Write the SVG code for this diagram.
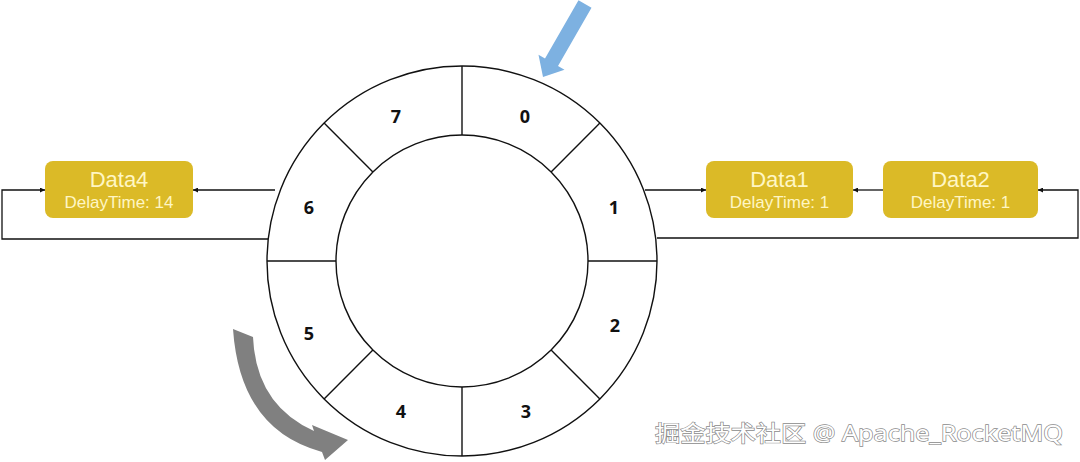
<svg xmlns="http://www.w3.org/2000/svg" width="1080" height="462" viewBox="0 0 1080 462">
<defs>
<marker id="ah" viewBox="0 0 10 10" refX="10" refY="5" markerWidth="5" markerHeight="5" orient="auto" markerUnits="userSpaceOnUse">
<path d="M0,0 L10,5 L0,10 Z" fill="#111"/>
</marker>
<style>
.ring{fill:none;stroke:#111;stroke-width:1.4}
.div{stroke:#111;stroke-width:1.4}
.num{font-family:"Open Sans","DejaVu Sans",sans-serif;font-weight:bold;font-size:18px;fill:#111;text-anchor:middle}
.box{fill:#DBBA27}
.t1{font-family:"Liberation Sans",Arial,sans-serif;font-size:22px;fill:#FFF6C4;text-anchor:middle}
.t2{font-family:"Liberation Sans",Arial,sans-serif;font-size:17px;fill:#FFF6C4;text-anchor:middle}
.conn{fill:none;stroke:#111;stroke-width:1.3}
.wm{font-family:"Noto Sans","Noto Sans CJK SC",sans-serif;font-size:22px;fill:#ffffff;stroke:#8a8a8a;stroke-width:1.3;paint-order:stroke}
</style>
</defs>
<rect width="1080" height="462" fill="#ffffff"/>

<g id="wheel">
<circle class="ring" cx="462" cy="261" r="195"/>
<circle class="ring" cx="462" cy="261" r="126"/>
<line class="div" x1="462" y1="66" x2="462" y2="135"/>
<line class="div" x1="462" y1="387" x2="462" y2="456"/>
<line class="div" x1="267" y1="261" x2="336" y2="261"/>
<line class="div" x1="588" y1="261" x2="657" y2="261"/>
<line class="div" x1="551.1" y1="171.9" x2="599.9" y2="123.1"/>
<line class="div" x1="372.9" y1="171.9" x2="324.1" y2="123.1"/>
<line class="div" x1="551.1" y1="350.1" x2="599.9" y2="398.9"/>
<line class="div" x1="372.9" y1="350.1" x2="324.1" y2="398.9"/>
<text class="num" x="525" y="123">0</text>
<text class="num" x="614" y="214">1</text>
<text class="num" x="615" y="332">2</text>
<text class="num" x="526" y="418">3</text>
<text class="num" x="401" y="418">4</text>
<text class="num" x="309" y="340">5</text>
<text class="num" x="309" y="214">6</text>
<text class="num" x="396" y="123">7</text>
</g>

<g id="data4">
<rect class="box" x="45" y="161" width="148" height="57" rx="8"/>
<text class="t1" x="119" y="187">Data4</text>
<text class="t2" x="119" y="208">DelayTime: 14</text>
</g>

<g id="data1">
<rect class="box" x="706" y="161" width="147" height="57" rx="8"/>
<text class="t1" x="779.5" y="187">Data1</text>
<text class="t2" x="779.5" y="208">DelayTime: 1</text>
</g>

<g id="data2">
<rect class="box" x="883" y="161" width="155" height="57" rx="8"/>
<text class="t1" x="960.5" y="187">Data2</text>
<text class="t2" x="960.5" y="208">DelayTime: 1</text>
</g>

<g id="connectors">
<line class="conn" x1="275" y1="190" x2="193" y2="190" marker-end="url(#ah)"/>
<polyline class="conn" points="268,239 2,239 2,190 45,190" marker-end="url(#ah)"/>
<line class="conn" x1="645" y1="190" x2="706" y2="190" marker-end="url(#ah)"/>
<line class="conn" x1="883" y1="190" x2="853" y2="190" marker-end="url(#ah)"/>
<polyline class="conn" points="657,238 1078,238 1078,190 1038,190" marker-end="url(#ah)"/>
</g>

<g id="pointer">
<polygon points="578.5,0.3 591.5,7.7 558,66 564.5,69.8 543,77 538.5,54.8 545,58.6" fill="#7DB1E1"/>
</g>

<g id="rotation">
<path d="M233,329 L253,337 Q256,405 314,431 L312,425 L348,440 L325,460 L322,452 Q240,430 233,329 Z" fill="#808080"/>
</g>

<text class="wm" x="655" y="441" textLength="408" lengthAdjust="spacingAndGlyphs">掘金技术社区 @ Apache_RocketMQ</text>
</svg>
